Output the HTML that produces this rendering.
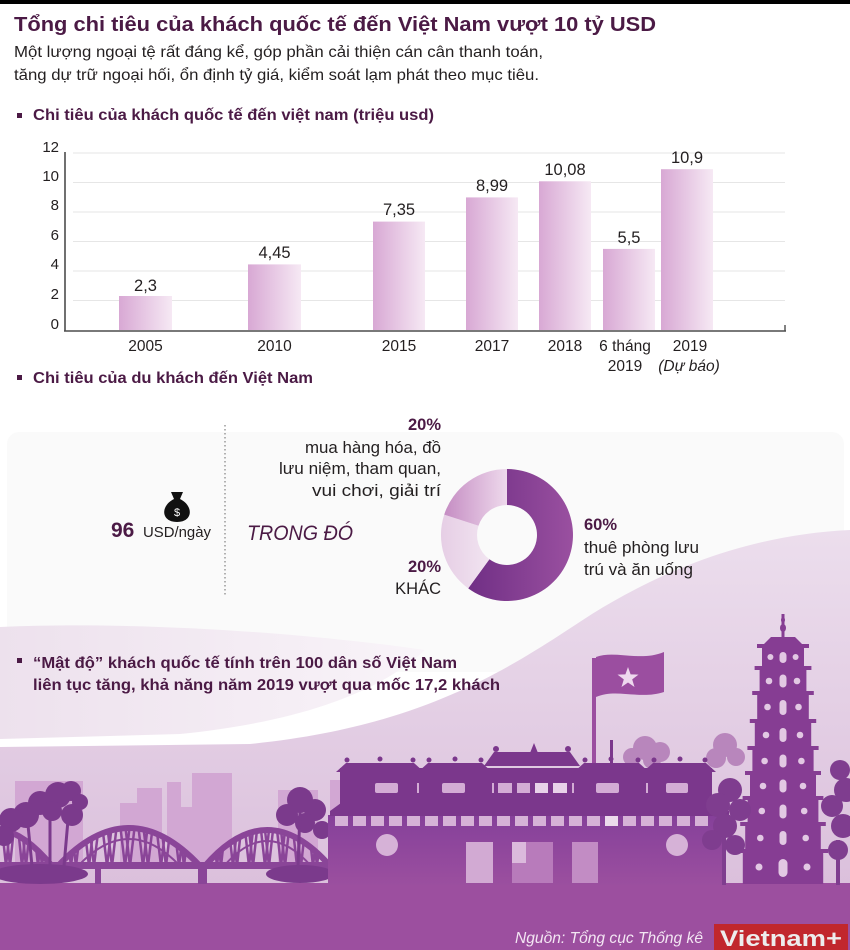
<!DOCTYPE html>
<html><head><meta charset="utf-8">
<style>
html,body{margin:0;padding:0;background:#fff;}
svg{display:block;font-family:"Liberation Sans",sans-serif;}
</style></head><body>
<svg width="850" height="950" viewBox="0 0 850 950" xmlns="http://www.w3.org/2000/svg">
<defs>
 <linearGradient id="bar" x1="0" x2="1" y1="0" y2="0"><stop offset="0" stop-color="#d8a8d4"/><stop offset="1" stop-color="#f6e9f4"/></linearGradient>
 <linearGradient id="d1" gradientUnits="userSpaceOnUse" x1="441" y1="0" x2="573" y2="0"><stop offset="0" stop-color="#65267e"/><stop offset="1" stop-color="#9a50a0"/></linearGradient>
 <linearGradient id="d2" gradientUnits="userSpaceOnUse" x1="441" y1="0" x2="500" y2="0"><stop offset="0" stop-color="#e6cee5"/><stop offset="1" stop-color="#f4e9f3"/></linearGradient>
 <linearGradient id="d3" gradientUnits="userSpaceOnUse" x1="441" y1="0" x2="507" y2="0"><stop offset="0" stop-color="#c389c1"/><stop offset="1" stop-color="#eed9ec"/></linearGradient>
 <linearGradient id="hill" gradientUnits="userSpaceOnUse" x1="0" y1="530" x2="0" y2="885"><stop offset="0" stop-color="#ecdeed"/><stop offset="1" stop-color="#dbc0dc"/></linearGradient>
 <linearGradient id="pale" gradientUnits="userSpaceOnUse" x1="0" y1="0" x2="470" y2="0"><stop offset="0" stop-color="#ede1ed"/><stop offset="1" stop-color="#faf6fa"/></linearGradient>
 <linearGradient id="wall" gradientUnits="userSpaceOnUse" x1="0" y1="815" x2="0" y2="885"><stop offset="0" stop-color="#85409a"/><stop offset="1" stop-color="#9b4f9f"/></linearGradient>
 <clipPath id="a1"><path d="M58,866 Q129,790 200,866 Z"/></clipPath>
 <clipPath id="a2"><path d="M205,866 Q267,794 330,866 Z"/></clipPath>
 <clipPath id="a0"><path d="M-70,866 Q-10,790 52,866 Z"/></clipPath>
</defs>

<rect x="0" y="0" width="850" height="950" fill="#fff"/>
<rect x="0" y="0" width="850" height="4" fill="#000"/>

<!-- Title -->
<text x="14" y="31" font-size="20" font-weight="bold" fill="#4b1a45" textLength="642" lengthAdjust="spacingAndGlyphs">Tổng chi tiêu của khách quốc tế đến Việt Nam vượt 10 tỷ USD</text>
<text x="14" y="57" font-size="16" fill="#231f20" textLength="529" lengthAdjust="spacingAndGlyphs">Một lượng ngoại tệ rất đáng kể, góp phần cải thiện cán cân thanh toán,</text>
<text x="14" y="80" font-size="16" fill="#231f20" textLength="525" lengthAdjust="spacingAndGlyphs">tăng dự trữ ngoại hối, ổn định tỷ giá, kiểm soát lạm phát theo mục tiêu.</text>

<rect x="17" y="113" width="5" height="5" fill="#4b1a45"/>
<text x="33" y="120" font-size="15.5" font-weight="bold" fill="#4b1a45" textLength="401" lengthAdjust="spacingAndGlyphs">Chi tiêu của khách quốc tế đến việt nam (triệu usd)</text>

<!-- Chart grid -->
<g stroke="#e6e6e6" stroke-width="1">
 <line x1="73" y1="153" x2="785" y2="153"/>
 <line x1="73" y1="182.5" x2="785" y2="182.5"/>
 <line x1="73" y1="212" x2="785" y2="212"/>
 <line x1="73" y1="241.5" x2="785" y2="241.5"/>
 <line x1="73" y1="271" x2="785" y2="271"/>
 <line x1="73" y1="300.5" x2="785" y2="300.5"/>
</g>
<g font-size="15" fill="#231f20" text-anchor="end">
 <text x="59" y="152">12</text>
 <text x="59" y="181">10</text>
 <text x="59" y="210">8</text>
 <text x="59" y="240">6</text>
 <text x="59" y="269">4</text>
 <text x="59" y="299">2</text>
 <text x="59" y="329">0</text>
</g>
<!-- bars -->
<g fill="url(#bar)">
 <rect x="119" y="296" width="53" height="34"/>
 <rect x="248" y="264.4" width="53" height="65.6"/>
 <rect x="373" y="221.6" width="52" height="108.4"/>
 <rect x="466" y="197.4" width="52" height="132.6"/>
 <rect x="539" y="181.3" width="52" height="148.7"/>
 <rect x="603" y="248.9" width="52" height="81.1"/>
 <rect x="661" y="169.2" width="52" height="160.8"/>
</g>
<line x1="65" y1="152" x2="65" y2="331" stroke="#4d4d4d" stroke-width="1.6"/>
<line x1="64" y1="331" x2="786" y2="331" stroke="#4d4d4d" stroke-width="1.6"/>
<line x1="785" y1="325" x2="785" y2="331" stroke="#4d4d4d" stroke-width="1.4"/>
<g font-size="16.5" fill="#231f20" text-anchor="middle">
 <text x="145.5" y="291">2,3</text>
 <text x="274.5" y="258">4,45</text>
 <text x="399" y="215">7,35</text>
 <text x="492" y="191">8,99</text>
 <text x="565" y="175">10,08</text>
 <text x="629" y="243">5,5</text>
 <text x="687" y="163">10,9</text>
</g>
<g font-size="15.5" fill="#231f20" text-anchor="middle">
 <text x="145.5" y="351">2005</text>
 <text x="274.5" y="351">2010</text>
 <text x="399" y="351">2015</text>
 <text x="492" y="351">2017</text>
 <text x="565" y="351">2018</text>
 <text x="625" y="351">6 tháng</text>
 <text x="625" y="371">2019</text>
 <text x="690" y="351">2019</text>
 <text x="689" y="371" font-style="italic">(Dự báo)</text>
</g>

<rect x="17" y="375" width="5" height="5" fill="#4b1a45"/>
<text x="33" y="383" font-size="15.5" font-weight="bold" fill="#4b1a45" textLength="280" lengthAdjust="spacingAndGlyphs">Chi tiêu của du khách đến Việt Nam</text>

<!-- faint panel -->
<rect x="7" y="432" width="837" height="240" rx="12" fill="#fafafa"/>

<!-- lower background -->
<path d="M0,627 C130,621 300,632 425,650 C380,692 300,722 180,734 L0,739 Z" fill="url(#pale)"/>
<path d="M850,530 C745,535 660,572 592,614 C515,664 430,726 250,744 L0,747 L0,950 L850,950 Z" fill="url(#hill)"/>

<!-- dotted separator -->
<line x1="225" y1="425" x2="225" y2="597" stroke="#8a8a8a" stroke-width="1.3" stroke-dasharray="1.5,2.5"/>

<!-- money bag -->
<path d="M171,492 L183,492 L180,499 L174,499 Z" fill="#111"/>
<path d="M174,499 C160,506 161,522 177,522 C193,522 194,506 180,499 Z" fill="#111"/>
<text x="177" y="516" font-size="11" fill="#fff" text-anchor="middle">$</text>
<text x="111" y="537" font-size="21" font-weight="bold" fill="#4b1a45">96</text>
<text x="143" y="537" font-size="15" fill="#231f20" textLength="68" lengthAdjust="spacingAndGlyphs">USD/ngày</text>
<text x="247" y="540" font-size="21" font-style="italic" fill="#4b1a45" textLength="106" lengthAdjust="spacingAndGlyphs">TRONG ĐÓ</text>

<!-- donut -->
<path d="M507,469 A66,66 0 1 1 468.2,588.4 L489.4,559.3 A30,30 0 1 0 507,505 Z" fill="url(#d1)"/>
<path d="M468.2,588.4 A66,66 0 0 1 444.2,514.6 L478.5,525.7 A30,30 0 0 0 489.4,559.3 Z" fill="url(#d2)"/>
<path d="M444.2,514.6 A66,66 0 0 1 507,469 L507,505 A30,30 0 0 0 478.5,525.7 Z" fill="url(#d3)"/>

<g font-size="16.5" fill="#231f20" text-anchor="end">
 <text x="441" y="430" font-weight="bold" fill="#4b1a45">20%</text>
 <text x="441" y="453" textLength="136" lengthAdjust="spacingAndGlyphs">mua hàng hóa, đồ</text>
 <text x="441" y="474" textLength="162" lengthAdjust="spacingAndGlyphs">lưu niệm, tham quan,</text>
 <text x="441" y="496" textLength="129" lengthAdjust="spacingAndGlyphs">vui chơi, giải trí</text>
 <text x="441" y="572" font-weight="bold" fill="#4b1a45">20%</text>
 <text x="441" y="594">KHÁC</text>
</g>
<g font-size="16.5" fill="#231f20">
 <text x="584" y="530" font-weight="bold" fill="#4b1a45">60%</text>
 <text x="584" y="553" textLength="115" lengthAdjust="spacingAndGlyphs">thuê phòng lưu</text>
 <text x="584" y="575" textLength="109" lengthAdjust="spacingAndGlyphs">trú và ăn uống</text>
</g>

<!-- bottom heading -->
<rect x="17" y="658" width="5" height="5" fill="#4b1a45"/>
<text x="33" y="668" font-size="16" font-weight="bold" fill="#4b1a45" textLength="424" lengthAdjust="spacingAndGlyphs">“Mật độ” khách quốc tế tính trên 100 dân số Việt Nam</text>
<text x="33" y="690" font-size="16" font-weight="bold" fill="#4b1a45" textLength="467" lengthAdjust="spacingAndGlyphs">liên tục tăng, khả năng năm 2019 vượt qua mốc 17,2 khách</text>

<!-- background buildings -->
<g fill="#d2a7d3">
 <rect x="15" y="781" width="68" height="90"/>
 <rect x="120" y="803" width="18" height="65"/>
 <rect x="137" y="788" width="25" height="80"/>
 <rect x="167" y="782" width="14" height="86"/>
 <rect x="180" y="807" width="13" height="60"/>
 <rect x="192" y="773" width="40" height="95"/>
 <rect x="278" y="790" width="40" height="78"/>
 <rect x="330" y="780" width="18" height="40"/>
</g>

<!-- flag -->
<rect x="592" y="658" width="4" height="110" fill="#9b4ea0"/>
<path d="M596,657 C615,650 640,662 664,652 L664,692 C640,700 616,688 596,697 Z" fill="#9b4ea0"/>
<polygon points="628,667 630.6,674.4 638.5,674.6 632.2,679.4 634.5,687 628,682.5 621.5,687 623.8,679.4 617.5,674.6 625.4,674.4" fill="#eed8ee"/>

<!-- light trees behind -->
<g fill="#b886bc">
 <circle cx="645" cy="748" r="12"/><circle cx="660" cy="752" r="10"/><circle cx="632" cy="757" r="9"/><circle cx="652" cy="760" r="9"/>
 <circle cx="725" cy="745" r="12"/><circle cx="716" cy="758" r="10"/><circle cx="736" cy="757" r="9"/>
</g>

<!-- ground -->
<rect x="0" y="883" width="850" height="67" fill="#9c4f9f"/>

<!-- bridge -->
<g stroke="#8a4598" fill="none">
 <g clip-path="url(#a1)" stroke-width="2.5">
  <polyline points="58,866 67,790 76,866 85,790 94,866 103,790 112,866 121,790 130,866 139,790 148,866 157,790 166,866 175,790 184,866 193,790 202,866"/>
  <polyline points="62,790 71,866 80,790 89,866 98,790 107,866 116,790 125,866 134,790 143,866 152,790 161,866 170,790 179,866 188,790 197,866"/>
 </g>
 <g clip-path="url(#a2)" stroke-width="2.5">
  <polyline points="205,866 213,794 221,866 229,794 237,866 245,794 253,866 261,794 269,866 277,794 285,866 293,794 301,866 309,794 317,866 325,794 333,866"/>
  <polyline points="209,794 217,866 225,794 233,866 241,794 249,866 257,794 265,866 273,794 281,866 289,794 297,866 305,794 313,866 321,794 329,866"/>
 </g>
 <g clip-path="url(#a0)" stroke-width="2.5">
  <polyline points="-6,866 2,790 10,866 18,790 26,866 34,790 42,866 50,790"/>
  <polyline points="-2,790 6,866 14,790 22,866 30,790 38,866 46,790"/>
 </g>
 <path d="M58,866 Q129,790 200,866" stroke-width="6"/>
 <path d="M205,866 Q267,794 330,866" stroke-width="6"/>
 <path d="M-70,866 Q-10,790 52,866" stroke-width="6"/>
 <path d="M78,866 Q129,812 180,866" stroke-width="2"/>
 <path d="M224,866 Q267,816 311,866" stroke-width="2"/>
</g>
<rect x="0" y="862" width="335" height="7" fill="#8a4598"/>
<rect x="198" y="866" width="9" height="18" fill="#8a4598"/>
<rect x="95" y="866" width="6" height="18" fill="#8a4598"/>

<!-- left trees -->
<g fill="#7b3a8c">
 <circle cx="58" cy="795" r="13"/><circle cx="71" cy="791" r="10"/><circle cx="40" cy="803" r="12"/>
 <circle cx="26" cy="815" r="13"/><circle cx="11" cy="820" r="12"/><circle cx="72" cy="815" r="11"/>
 <circle cx="52" cy="811" r="10"/><circle cx="4" cy="836" r="10"/><circle cx="80" cy="802" r="8"/>
 <circle cx="300" cy="800" r="13"/><circle cx="315" cy="810" r="11"/><circle cx="287" cy="815" r="11"/>
 <circle cx="305" cy="823" r="10"/><circle cx="322" cy="830" r="9"/>
 <ellipse cx="40" cy="874" rx="48" ry="10"/>
 <ellipse cx="300" cy="874" rx="34" ry="9"/>
</g>
<g stroke="#7b3a8c" stroke-width="3">
 <line x1="50" y1="808" x2="50" y2="866"/><line x1="28" y1="825" x2="32" y2="866"/>
 <line x1="68" y1="820" x2="64" y2="866"/><line x1="300" y1="812" x2="298" y2="866"/>
</g>

<!-- citadel -->
<rect x="328" y="815" width="396" height="70" fill="url(#wall)"/>
<g fill="#7b378c">
 <rect x="340" y="768" width="372" height="38"/>
 <polygon points="336,772 346,763 414,763 424,772"/>
 <polygon points="418,772 428,763 482,763 492,772"/>
 <polygon points="484,766 494,752 570,752 580,766"/>
 <polygon points="574,772 584,763 639,763 649,772"/>
 <polygon points="643,772 653,763 706,763 716,772"/>
 <polygon points="530,753 534,743 538,753"/>
 <circle cx="347" cy="760" r="2.5"/><circle cx="413" cy="760" r="2.5"/><circle cx="380" cy="759" r="2.5"/>
 <circle cx="429" cy="760" r="2.5"/><circle cx="481" cy="760" r="2.5"/><circle cx="455" cy="759" r="2.5"/>
 <circle cx="496" cy="749" r="3"/><circle cx="568" cy="749" r="3"/>
 <circle cx="585" cy="760" r="2.5"/><circle cx="638" cy="760" r="2.5"/><circle cx="611" cy="759" r="2.5"/>
 <circle cx="654" cy="760" r="2.5"/><circle cx="705" cy="760" r="2.5"/><circle cx="680" cy="759" r="2.5"/>
 <polygon points="330,811 341,803 720,803 729,811 729,816 330,816"/>
 <rect x="610" y="740" width="3" height="30"/>
</g>
<g fill="#d3acd5">
 <rect x="375" y="783" width="23" height="10" rx="2"/>
 <rect x="442" y="783" width="23" height="10" rx="2"/>
 <rect x="492" y="783" width="2" height="10"/>
 <rect x="498" y="783" width="14" height="10"/>
 <rect x="517" y="783" width="13" height="10"/>
 <rect x="535" y="783" width="13" height="10" fill="#e8d2e9"/>
 <rect x="553" y="783" width="14" height="10" fill="#e8d2e9"/>
 <rect x="572" y="783" width="2" height="10"/>
 <rect x="596" y="783" width="23" height="10" rx="2"/>
 <rect x="646" y="783" width="2" height="10"/>
 <rect x="666" y="783" width="22" height="10" rx="2"/>
 <rect x="417" y="783" width="2" height="10"/>
</g>
<g fill="#d6b2d7">
 <rect x="335" y="816" width="13" height="10"/><rect x="353" y="816" width="13" height="10"/>
 <rect x="371" y="816" width="13" height="10"/><rect x="389" y="816" width="13" height="10"/>
 <rect x="407" y="816" width="13" height="10"/><rect x="425" y="816" width="13" height="10"/>
 <rect x="443" y="816" width="13" height="10"/><rect x="461" y="816" width="13" height="10"/>
 <rect x="479" y="816" width="13" height="10"/><rect x="497" y="816" width="13" height="10"/>
 <rect x="515" y="816" width="13" height="10"/><rect x="533" y="816" width="13" height="10"/>
 <rect x="551" y="816" width="13" height="10"/><rect x="569" y="816" width="13" height="10"/>
 <rect x="587" y="816" width="13" height="10"/><rect x="605" y="816" width="13" height="10" fill="#ecdaec"/>
 <rect x="623" y="816" width="13" height="10"/><rect x="641" y="816" width="13" height="10"/>
 <rect x="659" y="816" width="13" height="10"/><rect x="677" y="816" width="13" height="10"/>
 <rect x="695" y="816" width="13" height="10"/>
</g>
<circle cx="387" cy="845" r="11" fill="#d6b2d7"/>
<circle cx="677" cy="845" r="11" fill="#d6b2d7"/>
<rect x="466" y="842" width="27" height="41" fill="#d2aad3"/>
<rect x="512" y="842" width="41" height="41" fill="#b87bbb"/>
<rect x="512" y="842" width="14" height="21" fill="#dbbadc"/>
<rect x="572" y="842" width="26" height="41" fill="#c28cc4"/>

<!-- pagoda -->
<g fill="#863d93">
 <rect x="781.5" y="614" width="3" height="26"/>
 <ellipse cx="783" cy="628" rx="3" ry="4"/>
 <ellipse cx="783" cy="620" rx="2" ry="3"/>
 <polygon points="763,645 771,637 795,637 803,645"/>
 <rect x="762" y="648" width="42" height="20"/><rect x="757" y="644" width="52" height="4"/>
 <rect x="759.6" y="670" width="46.8" height="23"/><rect x="754.6" y="666" width="56.8" height="4"/>
 <rect x="757.2" y="695" width="51.6" height="26"/><rect x="752.2" y="691" width="61.6" height="4"/>
 <rect x="754.8" y="723" width="56.4" height="25"/><rect x="749.8" y="719" width="66.4" height="4"/>
 <rect x="752.4" y="750" width="61.2" height="23"/><rect x="747.4" y="746" width="71.2" height="4"/>
 <rect x="750" y="775" width="66" height="23"/><rect x="745" y="771" width="76" height="4"/>
 <rect x="747.6" y="800" width="70.8" height="24"/><rect x="742.6" y="796" width="80.8" height="4"/>
 <rect x="745.2" y="826" width="75.6" height="25"/><rect x="740.2" y="822" width="85.6" height="4"/>
 <rect x="742.8" y="853" width="80.4" height="31"/><rect x="737.8" y="849" width="90.4" height="4"/>
</g>
<g fill="#e2c8e3">
 <circle cx="770.4" cy="657" r="3"/><circle cx="795.6" cy="657" r="3"/><rect x="779.5" y="652" width="7" height="11" rx="3.5"/>
 <circle cx="769" cy="681" r="3.3"/><circle cx="797" cy="681" r="3.3"/><rect x="779.5" y="674.5" width="7" height="13" rx="3.5"/>
 <circle cx="767.5" cy="707" r="3.3"/><circle cx="798.5" cy="707" r="3.3"/><rect x="779.5" y="700" width="7" height="15" rx="3.5"/>
 <circle cx="766" cy="735" r="3.3"/><circle cx="800" cy="735" r="3.3"/><rect x="779.5" y="728" width="7" height="14" rx="3.5"/>
 <circle cx="764.6" cy="761" r="3.3"/><circle cx="801.4" cy="761" r="3.3"/><rect x="779.5" y="754.5" width="7" height="13" rx="3.5"/>
 <circle cx="763" cy="786" r="3.3"/><circle cx="803" cy="786" r="3.3"/><rect x="779.5" y="779.5" width="7" height="13" rx="3.5"/>
 <circle cx="761.8" cy="811" r="3.3"/><circle cx="804.2" cy="811" r="3.3"/><rect x="779.5" y="804.5" width="7" height="14" rx="3.5"/>
 <circle cx="760.3" cy="838" r="3.3"/><circle cx="805.7" cy="838" r="3.3"/><rect x="779.5" y="831" width="7" height="14" rx="3.5"/>
 <circle cx="759" cy="867" r="3.5"/><circle cx="807" cy="867" r="3.5"/><rect x="778.5" y="859" width="9" height="18" rx="4.5"/>
</g>

<!-- right trees -->
<g fill="#7f3d8f">
 <circle cx="730" cy="790" r="12"/><circle cx="718" cy="805" r="12"/><circle cx="740" cy="810" r="11"/>
 <circle cx="725" cy="826" r="12"/><circle cx="712" cy="840" r="10"/><circle cx="735" cy="845" r="10"/>
 <rect x="722" y="830" width="4" height="55"/>
 <circle cx="840" cy="770" r="10"/><circle cx="846" cy="790" r="12"/><circle cx="832" cy="806" r="11"/>
 <circle cx="843" cy="826" r="12"/><circle cx="838" cy="850" r="10"/><rect x="836" y="840" width="4" height="45"/>
</g>

<!-- footer -->
<text x="515" y="943" font-size="16" font-style="italic" fill="#f3e6f3" textLength="188" lengthAdjust="spacingAndGlyphs">Nguồn: Tổng cục Thống kê</text>
<rect x="714" y="924" width="134" height="26" fill="#c1272d"/>
<text x="720" y="946" font-size="22" font-weight="bold" fill="#ededed" textLength="122" lengthAdjust="spacingAndGlyphs">Vietnam+</text>
</svg>
</body></html>
